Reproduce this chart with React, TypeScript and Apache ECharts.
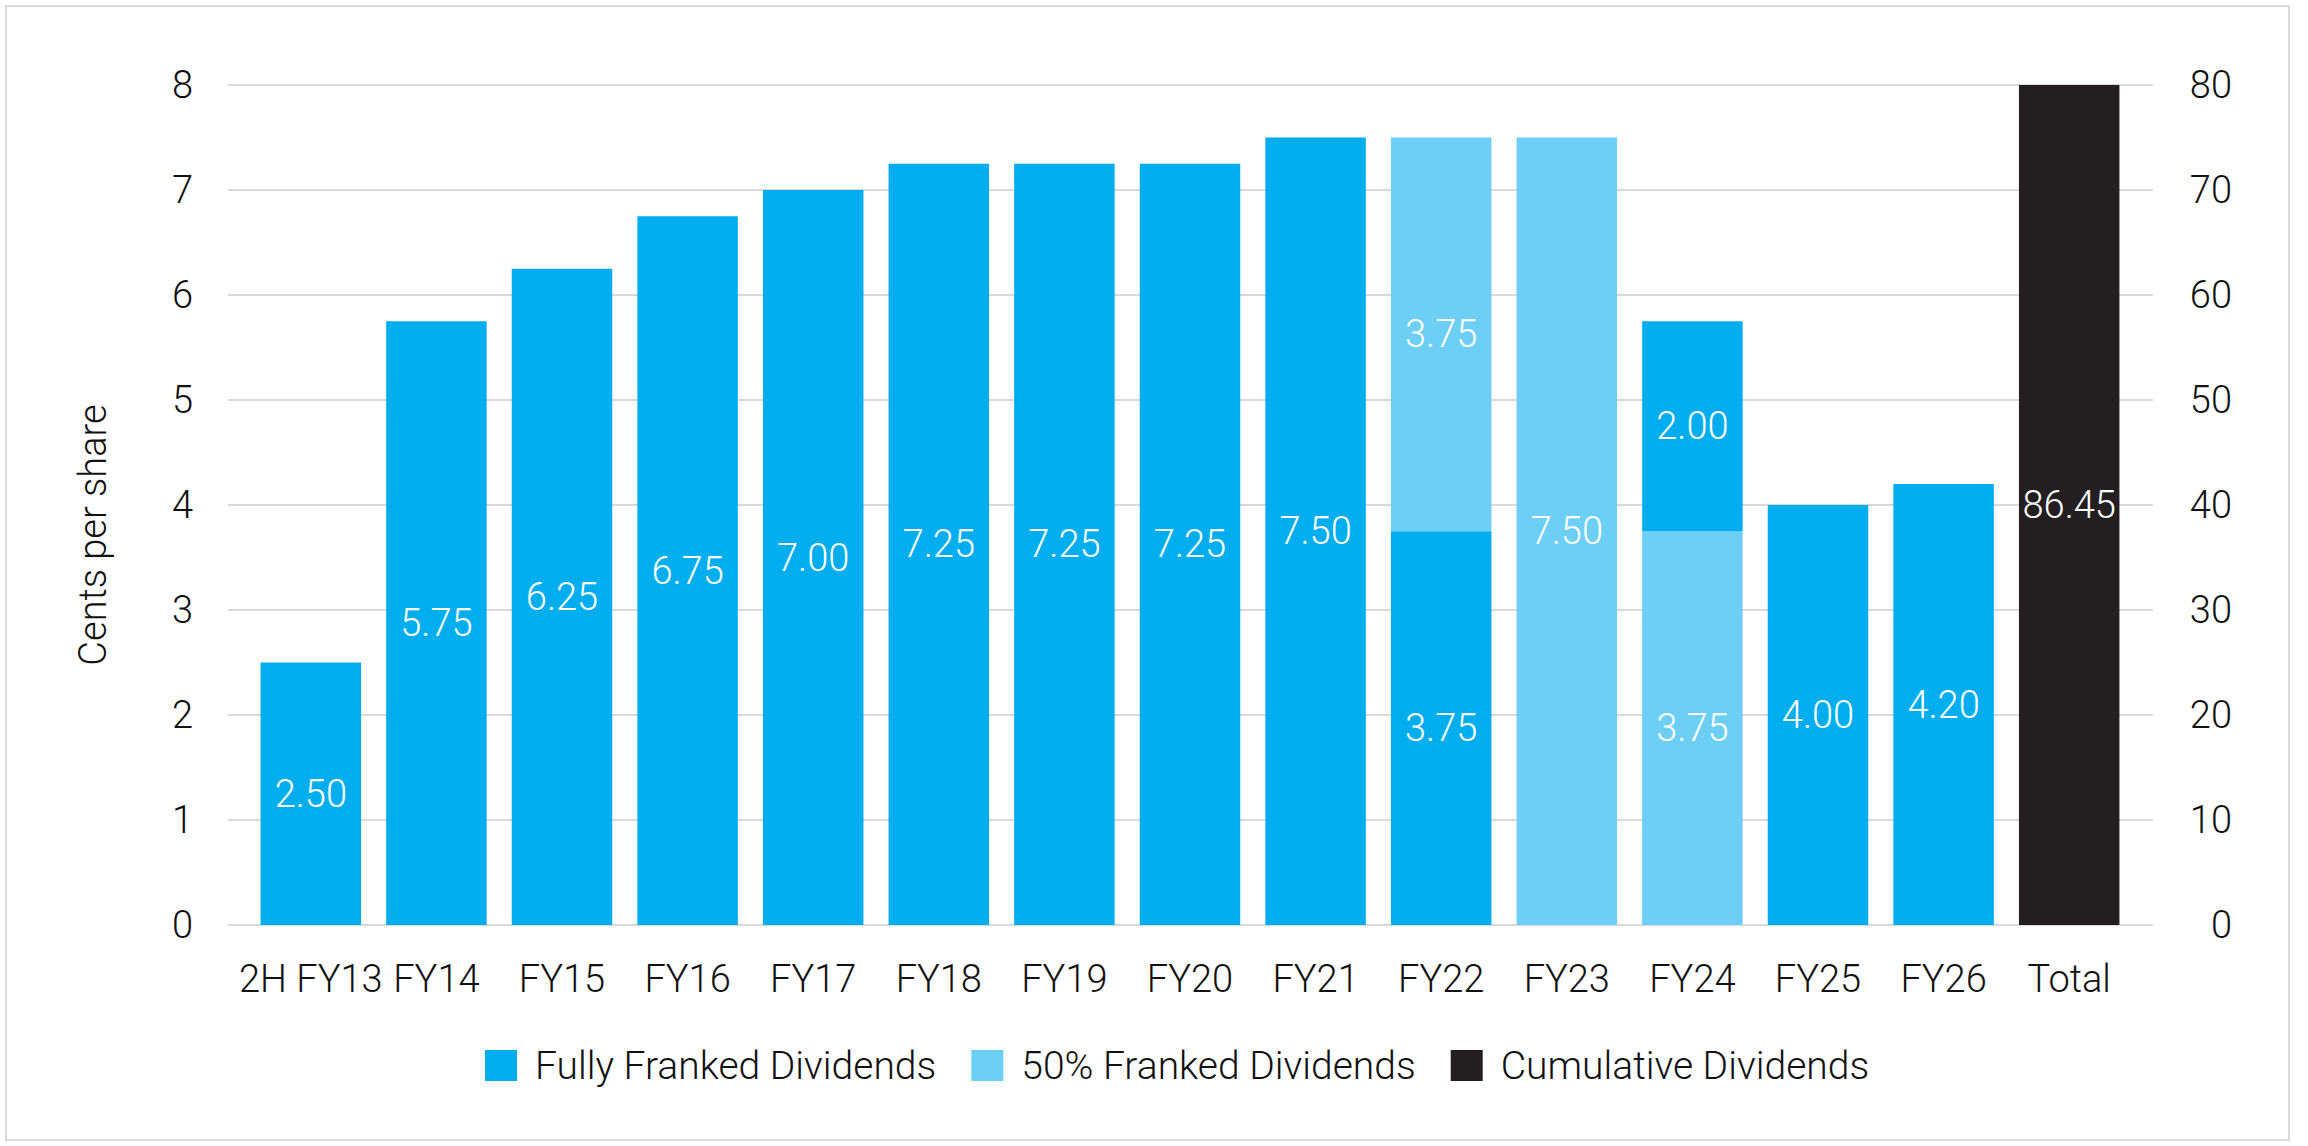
import { useEffect, useRef } from "react";
import * as echarts from "echarts";

const categories = ["2H FY13", "FY14", "FY15", "FY16", "FY17", "FY18", "FY19", "FY20", "FY21", "FY22", "FY23", "FY24", "FY25", "FY26", "Total"];

// fully franked part sitting at the base of each bar
const fullyBase = [2.5, 5.75, 6.25, 6.75, 7.0, 7.25, 7.25, 7.25, 7.5, 3.75, null, null, 4.0, 4.2, null];
// 50% franked part
const halfFranked = [null, null, null, null, null, null, null, null, null, 3.75, 7.5, 3.75, null, null, null];
// fully franked part stacked on top of the 50% part (FY24)
const fullyTop = [null, null, null, null, null, null, null, null, null, null, null, 2.0, null, null, null];
// cumulative total, read on the right axis
const cumulative = [null, null, null, null, null, null, null, null, null, null, null, null, null, null, 86.45];

const leftTicks = { min: 0, max: 8, interval: 1 };
const rightTicks = { min: 0, max: 80, interval: 10 };

const FONT = "Roboto";
const BLUE = "#00AEEF";
const LIGHT_BLUE = "#6DCFF6";
const BLACK = "#231F20";
const GRID_GREY = "#d9d9d9";

export default function App() {
  const chartRef = useRef<HTMLDivElement>(null);

  useEffect(() => {
    document.body.style.margin = "0";
    if (!chartRef.current) return;
    const chart = echarts.init(chartRef.current, undefined, { renderer: "svg" });

    const label = {
      show: true,
      position: "inside",
      color: "#fff",
      fontFamily: FONT,
      fontWeight: 300,
      fontSize: 38,
      formatter: (p: any) => Number(p.value).toFixed(2),
    };

    const toData = (arr: (number | null)[]) => arr.map((v) => (v === null ? "-" : v));

    chart.setOption({
      animation: false,
      textStyle: { fontFamily: FONT, fontWeight: 300 },
      grid: [
        { left: 228, right: 155, top: 85, bottom: 221 },
        { left: 248, right: 176, top: 85, bottom: 221 },
      ],
      xAxis: [
        { type: "value", gridIndex: 0, show: false, min: 0, max: 1 },
        {
          type: "category",
          gridIndex: 1,
          data: categories,
          axisLine: { show: false },
          axisTick: { show: false },
          axisLabel: { fontSize: 38, fontFamily: FONT, fontWeight: 300, color: "#111", margin: 35, interval: 0 },
        },
      ],
      yAxis: [
        {
          type: "value",
          gridIndex: 0,
          position: "left",
          ...leftTicks,
          axisLine: { show: false },
          axisTick: { show: false },
          splitLine: { show: true, lineStyle: { color: GRID_GREY, width: 2 } },
          axisLabel: { fontSize: 38, fontFamily: FONT, fontWeight: 300, color: "#111", margin: 35 },
        },
        {
          type: "value",
          gridIndex: 0,
          position: "right",
          ...rightTicks,
          axisLine: { show: false },
          axisTick: { show: false },
          splitLine: { show: false },
          axisLabel: { fontSize: 38, fontFamily: FONT, fontWeight: 300, color: "#111", margin: 79, align: "right" },
        },
        { type: "value", gridIndex: 1, show: false, ...leftTicks, splitLine: { show: false } },
        { type: "value", gridIndex: 1, show: false, ...rightTicks, splitLine: { show: false } },
      ],
      legend: {
        data: ["Fully Franked Dividends", "50% Franked Dividends", "Cumulative Dividends"],
        left: 480,
        top: 1041,
        icon: "rect",
        itemWidth: 32,
        itemHeight: 31,
        itemGap: 35,
        textStyle: { fontSize: 39, fontFamily: FONT, fontWeight: 300, color: "#111", padding: [0, 0, 0, 13] },
      },
      graphic: [
        {
          type: "rect",
          shape: { x: 6, y: 6, width: 2283, height: 1134 },
          style: { fill: "none", stroke: GRID_GREY, lineWidth: 2 },
          silent: true,
        },
        {
          type: "text",
          x: 93,
          y: 535,
          rotation: Math.PI / 2,
          style: {
            text: "Cents per share",
            fontSize: 38,
            fontFamily: FONT,
            fontWeight: 300,
            fill: "#111",
            align: "center",
            verticalAlign: "middle",
          },
        },
      ],
      series: [
        {
          name: "Fully Franked Dividends",
          type: "bar",
          xAxisIndex: 1,
          yAxisIndex: 2,
          stack: "div",
          barCategoryGap: "20%",
          barGap: "-100%",
          itemStyle: { color: BLUE },
          label,
          data: toData(fullyBase),
        },
        {
          name: "50% Franked Dividends",
          type: "bar",
          xAxisIndex: 1,
          yAxisIndex: 2,
          stack: "div",
          itemStyle: { color: LIGHT_BLUE },
          label,
          data: toData(halfFranked),
        },
        {
          name: "Fully Franked Dividends",
          type: "bar",
          xAxisIndex: 1,
          yAxisIndex: 2,
          stack: "div",
          itemStyle: { color: BLUE },
          label,
          data: toData(fullyTop),
        },
        {
          name: "Cumulative Dividends",
          type: "bar",
          xAxisIndex: 1,
          yAxisIndex: 3,
          barGap: "-100%",
          itemStyle: { color: BLACK },
          label,
          data: toData(cumulative),
        },
      ],
    });

    return () => chart.dispose();
  }, []);

  return <div ref={chartRef} style={{ width: 2308, height: 1146 }} />;
}
